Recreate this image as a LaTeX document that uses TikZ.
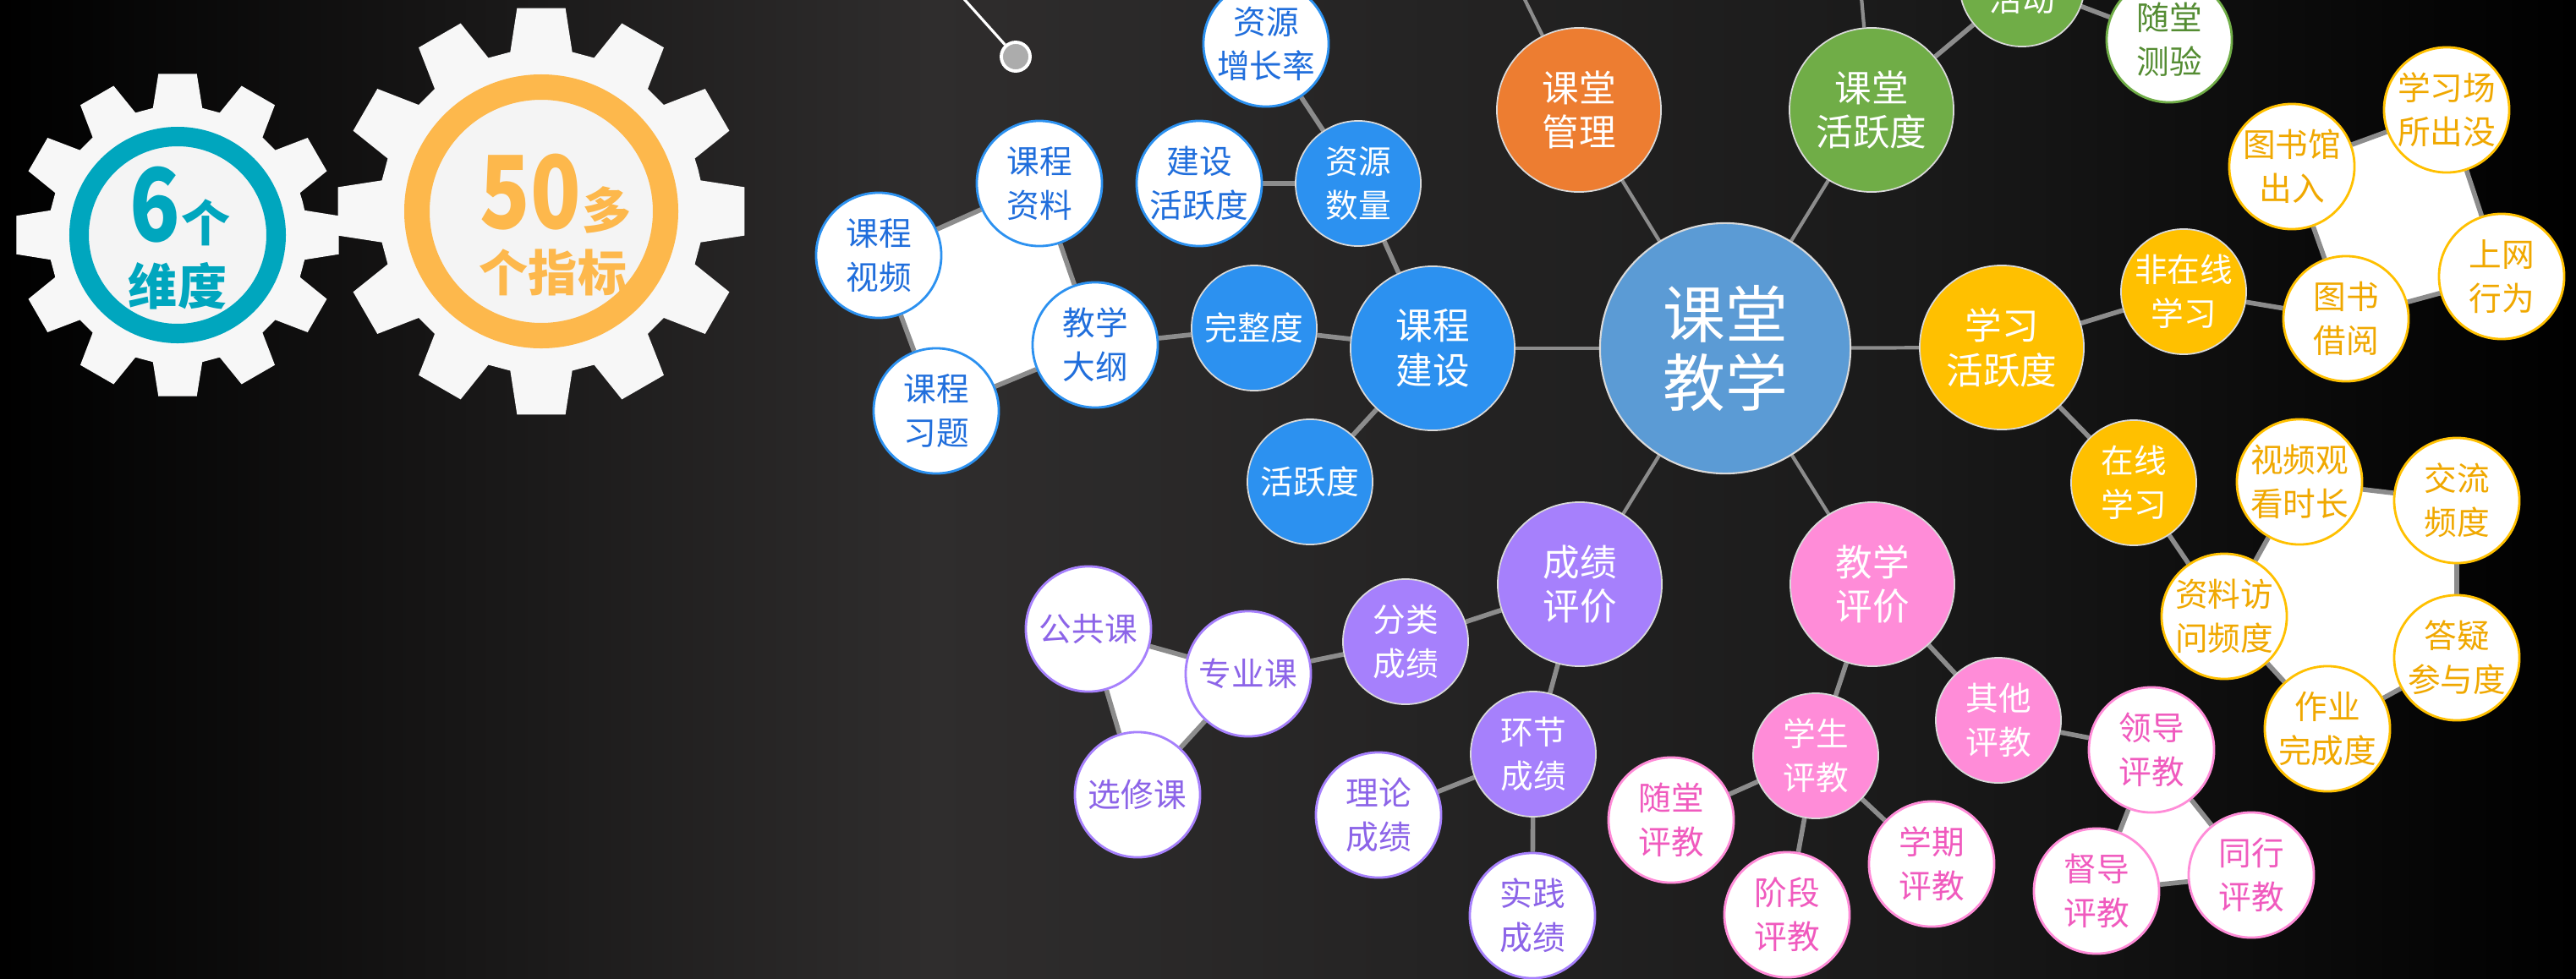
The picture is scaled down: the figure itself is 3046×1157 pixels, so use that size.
\documentclass[tikz,border=0pt]{standalone}
\usepackage{fontspec}
\setmainfont{Noto Sans CJK SC}
\usepackage{graphicx}
\definecolor{hubcol}{RGB}{91,155,213}
\definecolor{cblue}{RGB}{44,145,240}
\definecolor{cblueT}{RGB}{32,110,220}
\definecolor{corange}{RGB}{237,125,49}
\definecolor{cgreen}{RGB}{112,173,71}
\definecolor{cgreenT}{RGB}{84,140,50}
\definecolor{cyellow}{RGB}{255,192,0}
\definecolor{cyellowT}{RGB}{240,168,0}
\definecolor{cpurple}{RGB}{166,128,252}
\definecolor{cpurpleT}{RGB}{140,100,232}
\definecolor{cpink}{RGB}{255,140,216}
\definecolor{cpinkT}{RGB}{240,90,190}
\definecolor{linkcol}{RGB}{140,140,140}
\definecolor{gteal}{RGB}{0,166,190}
\definecolor{gorange}{RGB}{253,184,76}
\definecolor{bgmid}{RGB}{47,45,45}
\definecolor{bgright}{RGB}{26,26,26}
\pgfdeclarelayer{bg}
\pgfdeclarelayer{links}
\pgfsetlayers{bg,links,main}
\tikzset{
  hubnode/.style={circle,minimum size=2.96cm,inner sep=0pt,align=center,fill=hubcol,draw=white!70!gray,line width=0.6pt,text=white,font=\fontsize{21}{23}\selectfont},
  topic/.style={circle,minimum size=1.94cm,inner sep=0pt,align=center,fill=#1,draw=white!70!gray,line width=0.5pt,text=white,font=\fontsize{12.4}{15}\selectfont},
  sub/.style={circle,minimum size=1.48cm,inner sep=0pt,align=center,fill=#1,draw=white!70!gray,line width=0.5pt,text=white,font=\fontsize{11}{14.8}\selectfont},
  leaf/.style={circle,minimum size=1.48cm,inner sep=0pt,align=center,fill=white,draw=#1,line width=0.8pt,text=#1T,font=\fontsize{11}{14.8}\selectfont},
  link/.style={draw=linkcol,line width=1.6pt},
  hublink/.style={draw=linkcol,line width=1.2pt},
  gearnum/.style={inner sep=0pt,text=#1,font=\fontsize{34}{34}\selectfont\bfseries},
  gearword/.style={inner sep=0pt,text=#1,font=\fontsize{16.5}{16.5}\selectfont\bfseries},
  dot/.style={circle,minimum size=0.34cm,inner sep=0pt,fill=gray!65,draw=white,line width=1.1pt}
}
\begin{document}
\begin{tikzpicture}[x=0.01cm,y=-0.01cm]
\useasboundingbox (0,0) rectangle (3046,1157);
\begin{pgfonlayer}{bg}
\shade[left color=black,right color=bgmid](0,0) rectangle (1100,1157);
\shade[left color=bgmid,right color=bgright](1100,0) rectangle (2250,1157);
\shade[left color=bgright,right color=black](2250,0) rectangle (3046,1157);
\end{pgfonlayer}
\foreach \gx/\gy/\ra/\rb/\rr/\rw/\col in {210/278/153/192/116.5/0.23cm/gteal,640/250/192/242/147/0.30cm/gorange}{
\begin{scope}[shift={(\gx,\gy)}]
\fill[gray!6](-15:\ra)\foreach \a in {0,30,...,330}{--({\a-11}:\ra)--({\a-6.8}:\rb)--({\a+6.8}:\rb)--({\a+11}:\ra)}--cycle;
\fill[gray!9](0,0) circle[radius=\rr];
\draw[\col,line width=\rw](0,0) circle[radius=\rr];
\end{scope}}
\node[gearnum=gteal,anchor=base](six) at (183,285){\scalebox{0.82}[1]{6}};
\node[gearword=gteal,anchor=base west](ge) at (six.base east){个};
\node[gearword=gteal](wd) at (210,338){维度};
\node[gearnum=gorange,anchor=base](fifty) at (627,270){\scalebox{0.82}[1]{50}};
\node[gearword=gorange,anchor=base west](duo) at (fifty.base east){多};
\node[gearword=gorange](zb) at (654,322){个指标};
\node[dot](dot) at (1201,67){};
\node[hubnode](hub) at (2040,412){课堂\\教学};
\foreach \n/\x/\y/\c/\t in {kcjs/1694/412/cblue/课程\\建设,ktgl/1867/130/corange/课堂\\管理,kthy/2213/130/cgreen/课堂\\活跃度,
xxhy/2367/411/cyellow/学习\\活跃度,cjpj/1868/691/cpurple/成绩\\评价,jxpj/2214/691/cpink/教学\\评价}{\node[topic=\c](\n) at (\x,\y){\t};}
\foreach \n/\x/\y/\c/\t in {zysl/1606/217/cblue/资源\\数量,wzd/1483/388/cblue/完整度,hyd/1549/570/cblue/活跃度,
fzx/2582/345/cyellow/非在线\\学习,zx/2523/571/cyellow/在线\\学习,flcj/1662/759/cpurple/分类\\成绩,hjcj/1813/892/cpurple/环节\\成绩,
xspj/2147/894/cpink/学生\\评教,qtpj/2363/852/cpink/其他\\评教}{\node[sub=\c](\n) at (\x,\y){\t};}
\node[sub=cgreen,text height=0.65cm,text depth=0pt](hd) at (2391,-19){活动};
\foreach \n/\x/\y/\c/\t in {zyzz/1497/52/cblue/资源\\增长率,jshy/1418/217/cblue/建设\\活跃度,jxdg/1295/408/cblue/教学\\大纲,
kczl/1229/217/cblue/课程\\资料,kcsp/1039/302/cblue/课程\\视频,kcxt/1107/486/cblue/课程\\习题,stcy/2565/47/cgreen/随堂\\测验,
xxcs/2893/130/cyellow/学习场\\所出没,tsgcr/2710/197/cyellow/图书馆\\出入,swxw/2958/327/cyellow/上网\\行为,tsjy/2774/377/cyellow/图书\\借阅,
spgk/2719/570/cyellow/视频观\\看时长,jlpd/2905/592/cyellow/交流\\频度,dycy/2905/778/cyellow/答疑\\参与度,zywc/2752/862/cyellow/作业\\完成度,
zlfw/2630/729/cyellow/资料访\\问频度,zyk/1476/797/cpurple/专业课,ggk/1287/744/cpurple/公共课,xxk/1345/940/cpurple/选修课,
llcj/1630/964/cpurple/理论\\成绩,sjcj/1812/1083/cpurple/实践\\成绩,stpj/1976/970/cpink/随堂\\评教,jdpj/2113/1082/cpink/阶段\\评教,
xqpj/2284/1022/cpink/学期\\评教,ldpj/2544/887/cpink/领导\\评教,ddpj/2479/1054/cpink/督导\\评教,txpj/2662/1035/cpink/同行\\评教}{\node[leaf=\c](\n) at (\x,\y){\t};}
\coordinate (ktgltop) at (1791,-25);
\coordinate (kthytop) at (2199,-25);
\coordinate (dottop) at (1123,-20);
\begin{pgfonlayer}{links}
\fill[white](kcsp.center)--(kczl.center)--(jxdg.center)--(kcxt.center)--cycle;
\fill[white](tsgcr.center)--(xxcs.center)--(swxw.center)--(tsjy.center)--cycle;
\fill[white](spgk.center)--(jlpd.center)--(dycy.center)--(zywc.center)--(zlfw.center)--cycle;
\fill[white](ggk.center)--(zyk.center)--(xxk.center)--cycle;
\fill[white](ldpj.center)--(ddpj.center)--(txpj.center)--cycle;
\foreach \a/\b in {hub/kcjs,hub/ktgl,hub/kthy,hub/xxhy,hub/cjpj,hub/jxpj,ktgl/ktgltop,kthy/kthytop}{\draw[hublink](\a)--(\b);}
\foreach \a/\b in {kcjs/zysl,kcjs/wzd,kcjs/hyd,zysl/zyzz,zysl/jshy,wzd/jxdg,kthy/hd,hd/stcy,xxhy/fzx,xxhy/zx,fzx/tsjy,zx/zlfw,
cjpj/flcj,cjpj/hjcj,flcj/zyk,hjcj/llcj,hjcj/sjcj,jxpj/xspj,jxpj/qtpj,xspj/stpj,xspj/jdpj,xspj/xqpj,qtpj/ldpj,
kcsp/kczl,kczl/jxdg,jxdg/kcxt,kcxt/kcsp,tsgcr/xxcs,xxcs/swxw,swxw/tsjy,tsjy/tsgcr,spgk/jlpd,jlpd/dycy,dycy/zywc,zywc/zlfw,zlfw/spgk,
ggk/zyk,zyk/xxk,xxk/ggk,ldpj/ddpj,ddpj/txpj,txpj/ldpj}{\draw[link](\a)--(\b);}
\draw[white,line width=0.9pt](dot)--(dottop);
\end{pgfonlayer}
\end{tikzpicture}
\end{document}
